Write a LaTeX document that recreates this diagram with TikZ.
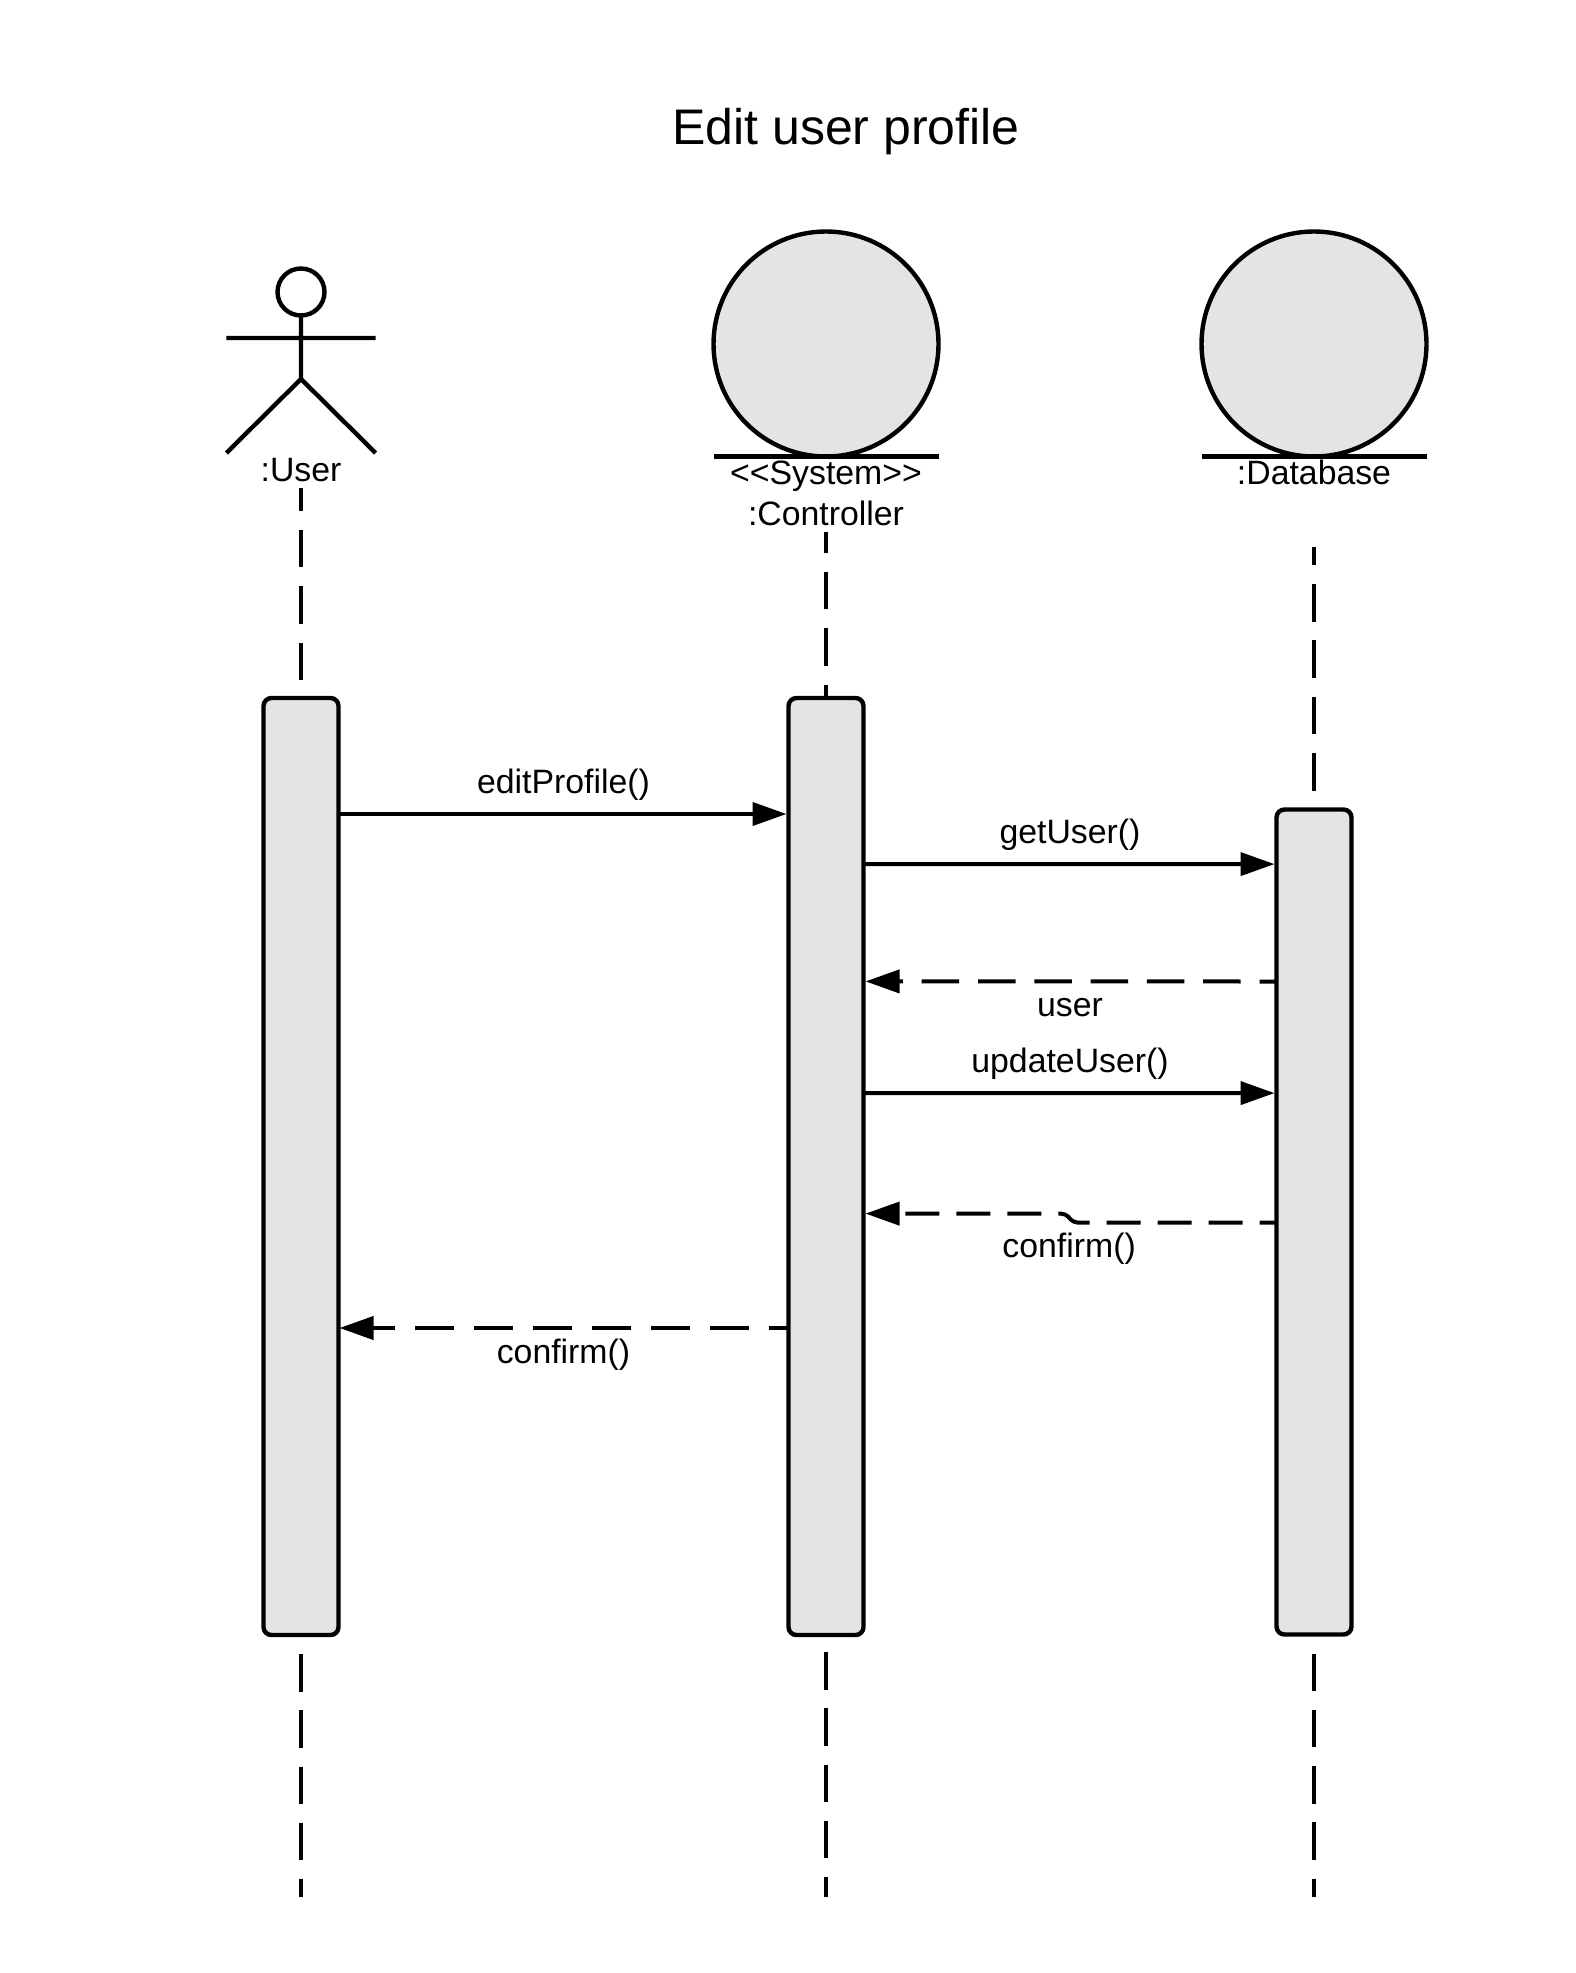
\documentclass[tikz,border=0pt]{standalone}
\usepackage{fontspec}
\setmainfont{Liberation Sans}
\usetikzlibrary{positioning,arrows.meta}
\definecolor{shade}{HTML}{E4E4E4}
\tikzset{
  lbl/.style={font=\fontsize{16.9}{20}\selectfont, inner sep=0pt, outer sep=0pt, text height=12pt, text depth=3.5pt},
  bar/.style={draw, line width=2.2pt, fill=shade, rounded corners=4pt, minimum width=37.5pt, outer sep=0pt, inner sep=0pt},
  ball/.style={draw, circle, line width=2.2pt, fill=shade, minimum size=112.5pt, outer sep=0pt, inner sep=0pt},
  lifeline/.style={line width=2pt, dash pattern=on 18.75pt off 9.4pt},
  msg/.style={line width=2pt, -{Triangle[length=17pt,width=11.5pt]}, shorten >=1pt},
  reply/.style={msg, dash pattern=on 18.75pt off 9.4pt},
}
\begin{document}
\begin{tikzpicture}[x=1pt,y=1pt]
  \useasboundingbox (0,0) rectangle (787.5,-986.5);
  \node (title) [font=\fontsize{25}{30}\selectfont] at (423,-66) {Edit user profile};

  % user
  \node (head) [draw, circle, line width=2.2pt, minimum size=23.5pt, inner sep=0pt, outer sep=0pt] at (150.5,-146) {};
  \coordinate (hip) at (150.5,-189.5);
  \coordinate (armL) at (113.2,-169);
  \coordinate (armR) at (187.8,-169);
  \coordinate (legL) at (113.2,-226.5);
  \coordinate (legR) at (187.8,-226.5);
  \draw[line width=2.2pt] (head.south) -- (hip) (armL) -- (armR) (legL) -- (hip) -- (legR);
  \node (user) [lbl] at (150.5,-236.25) {:User};

  % controller
  \node (ctrl) [ball] at (413,-172) {};
  \draw[line width=2.2pt] (ctrl.west |- ctrl.south) -- (ctrl.east |- ctrl.south);
  \node (sys) [lbl, below=2.2pt of ctrl] {<{}<System>{}>};
  \node (ctrlname) [lbl, below=4.6pt of sys] {:Controller};

  % database
  \node (db) [ball] at (657,-172) {};
  \draw[line width=2.2pt] (db.west |- db.south) -- (db.east |- db.south);
  \node (dbname) [lbl, below=2.2pt of db] {:Database};

  % activation bars
  \node (ubar) [bar, minimum height=468.5pt] at (150.5,-583.25) {};
  \node (cbar) [bar, minimum height=468.5pt] at (413,-583.25) {};
  \node (dbar) [bar, minimum height=412.5pt] at (657,-611) {};

  % lifelines
  \coordinate (dbtop) at (657,-273.5);
  \coordinate (userend) at (150.5,-948.5);
  \coordinate (ctrlend) at (413,-948.5);
  \coordinate (dbend) at (657,-948.5);
  \draw[lifeline] ([yshift=9pt]ubar.north) -- (user.south);
  \draw[lifeline, dash phase=12pt] (cbar.north) -- (ctrlname.south);
  \draw[lifeline] ([yshift=9.5pt]dbar.north) -- (dbtop);
  \draw[lifeline] ([yshift=-9.5pt]ubar.south) -- (userend);
  \draw[lifeline] ([yshift=-8.5pt]cbar.south) -- (ctrlend);
  \draw[lifeline] ([yshift=-9.5pt]dbar.south) -- (dbend);

  % messages
  \draw[msg] ([yshift=-58pt]ubar.north east) -- ([yshift=-58pt]cbar.north west)
    node (edit) [lbl, midway, above=6.6pt] {editProfile()};
  \draw[msg] ([yshift=-83pt]cbar.north east) -- ([yshift=-27.3pt]dbar.north west)
    node (get) [lbl, midway, above=7pt] {getUser()};
  \draw[reply, dash phase=10.25pt] ([yshift=-86pt]dbar.north west) -- ([yshift=-141.7pt]cbar.north east)
    node (ret) [lbl, midway, below=5.3pt] {user};
  \draw[msg] ([yshift=-197.5pt]cbar.north east) -- ([yshift=-141.8pt]dbar.north west)
    node (upd) [lbl, midway, above=7pt] {updateUser()};
  \draw[reply, dash pattern=on 17pt off 8.5pt, dash phase=8.5pt, rounded corners=2pt] ([yshift=-206.5pt]dbar.north west) -- ++(-101.5pt,0)
    node (conf) [lbl, pos=1, below=5.3pt, xshift=-2.2pt] {confirm()} -- ++(-4pt,4.4pt) -- ([yshift=-257.8pt]cbar.north east);
  \draw[reply, shorten >=0.5pt, dash pattern=on 19.5pt off 10pt, dash phase=9.5pt] ([yshift=-315pt]cbar.north west) -- ([yshift=-315pt]ubar.north east)
    node (conf2) [lbl, midway, below=5.5pt] {confirm()};
\end{tikzpicture}
\end{document}
